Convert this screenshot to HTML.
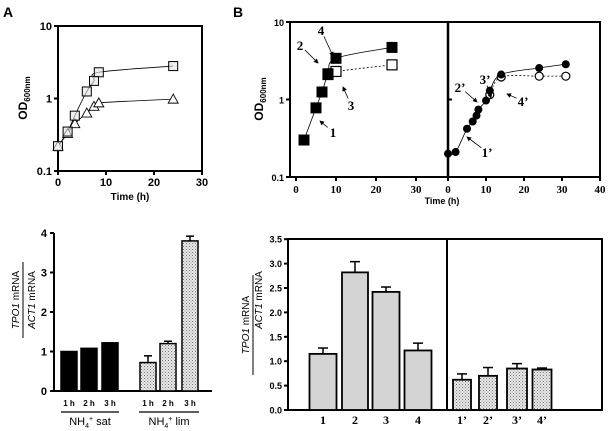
<!DOCTYPE html>
<html><head><meta charset="utf-8"><style>
body{margin:0;background:#fff}
svg{display:block}
.s{font-family:"Liberation Sans",sans-serif;font-weight:bold}
.r{font-family:"Liberation Serif",serif;font-weight:bold}
</style></head><body>
<svg id="fig" width="609" height="431" viewBox="0 0 609 431" xmlns="http://www.w3.org/2000/svg">
<defs>
<pattern id="dots" width="3" height="3" patternUnits="userSpaceOnUse"><rect width="3" height="3" fill="#e8e8e8"/><rect width="1" height="1" fill="#777"/><rect x="1.5" y="1.5" width="1" height="1" fill="#999"/></pattern>
<marker id="ah" markerWidth="6" markerHeight="6" refX="5" refY="3" orient="auto"><path d="M0,0 L6,3 L0,6 z" fill="#000"/></marker>
</defs>
<text x="3" y="17" class="s" font-size="14">A</text>
<text x="233" y="17" class="s" font-size="14">B</text>
<g id="g"></g>
</svg>
<script>
// Panel A growth
const aTime=[0,2,3.5,6,7.5,8.5,24];
const aSat=[0.22,0.35,0.58,1.25,1.75,2.3,2.8];
const aLim=[0.22,0.33,0.45,0.63,0.78,0.87,0.98];
// Panel B growth
const bTime1=[2,5,6.5,8,10,24];
const bFill1=[0.3,0.78,1.25,2.15,3.4,4.7];
const bTimeOpen1=[8,10,24];
const bOpen1=[2.1,2.3,2.8];
const bTime2=[0,2,5,6.5,7.5,8,10,11,14,24,31];
const bFill2=[0.2,0.21,0.42,0.52,0.62,0.74,0.97,1.3,2.1,2.55,2.85];
const bTimeOpen2=[11,14,24,31];
const bOpen2=[1.15,1.95,2.0,2.0];
// Panel A bars
const aBarLabels=["1 h","2 h","3 h","1 h","2 h","3 h"];
const aBarVals=[1.0,1.08,1.22,0.72,1.2,3.8];
const aBarErr=[0,0,0,0.17,0.06,0.12];
// Panel B bars
const bBarLabels=["1","2","3","4","1’","2’","3’","4’"];
const bBarVals=[1.15,2.82,2.42,1.22,0.62,0.7,0.85,0.83];
const bBarErr=[0.12,0.22,0.1,0.15,0.12,0.17,0.1,0.03];

const NS="http://www.w3.org/2000/svg";
const G=document.getElementById('g');
function el(t,a,p){const e=document.createElementNS(NS,t);for(const k in a)e.setAttribute(k,a[k]);(p||G).appendChild(e);return e;}
function tx(x,y,s,cls,fs,anchor,rot){const e=el('text',{x:x,y:y,class:cls,'font-size':fs,'text-anchor':anchor||'middle'});if(rot)e.setAttribute('transform','rotate(-90 '+x+' '+y+')');e.textContent=s;return e;}
function logY(top,bot){return v=>bot-(Math.log10(v)+1)/2*(bot-top);}
function linX(x0,x1,d0,d1){return v=>x0+(v-d0)/(d1-d0)*(x1-x0);}
function smooth(pts){let d='M'+pts[0][0]+','+pts[0][1];for(let i=1;i<pts.length;i++){const p0=pts[Math.max(0,i-2)],p1=pts[i-1],p2=pts[i],p3=pts[Math.min(pts.length-1,i+1)];d+=' C'+(p1[0]+(p2[0]-p0[0])/6)+','+(p1[1]+(p2[1]-p0[1])/6)+' '+(p2[0]-(p3[0]-p1[0])/6)+','+(p2[1]-(p3[1]-p1[1])/6)+' '+p2[0]+','+p2[1];}return d;}

// ---------- Panel A top ----------
{const X=linX(58,202,0,30),Y=logY(26,171);
let ax=el('rect',{x:58,y:26,width:144,height:145,fill:'none',stroke:'#000','stroke-width':2});

[0,10,20,30].forEach(v=>{el('line',{x1:X(v),x2:X(v),y1:171,y2:175,stroke:'#000','stroke-width':2});tx(X(v),186,String(v),'s',11);});
[[0.1,'0.1'],[1,'1'],[10,'10']].forEach(t=>{el('line',{x1:54,x2:58,y1:Y(t[0]),y2:Y(t[0]),stroke:'#000','stroke-width':2});tx(52,Y(t[0])+4,t[1],'s',11,'end');});
let t=tx(130,200,'Time (h)','s',10);
let o=el('text',{x:27,y:98,class:'s','font-size':12,'text-anchor':'middle',transform:'rotate(-90 27 98)'});o.innerHTML='OD<tspan font-size="8" dy="3">600nm</tspan>';

const pS=aTime.map((v,i)=>[X(v),Y(aSat[i])]),pL=aTime.map((v,i)=>[X(v),Y(aLim[i])]);
el('path',{d:smooth(pS),fill:'none',stroke:'#000','stroke-width':0.8});
el('path',{d:smooth(pL),fill:'none',stroke:'#000','stroke-width':0.8});
pL.forEach(p=>{const m=el('path',{d:`M${p[0]},${p[1]-5} L${p[0]+5},${p[1]+4} L${p[0]-5},${p[1]+4}Z`,fill:'#fff',stroke:'#000','stroke-width':0.9});});
pS.forEach(p=>{const m=el('rect',{x:p[0]-4.5,y:p[1]-4.5,width:9,height:9,fill:'#e4e4e4','fill-opacity':0.6,stroke:'#000','stroke-width':1});});
}
// ---------- Panel B top ----------
{const Y=logY(22,177);const X1=linX(296,416,0,30),X2=linX(448,600,0,40);
let ax=el('rect',{x:290,y:22,width:310,height:155,fill:'none',stroke:'#000','stroke-width':2});

el('line',{x1:448,x2:448,y1:22,y2:177,stroke:'#000','stroke-width':2.5});
[0,10,20,30].forEach(v=>{el('line',{x1:X1(v),x2:X1(v),y1:177,y2:181,stroke:'#000','stroke-width':2});tx(X1(v),193,String(v),'r',11);});
[0,10,20,30,40].forEach(v=>{el('line',{x1:X2(v),x2:X2(v),y1:177,y2:181,stroke:'#000','stroke-width':2});tx(X2(v),193,String(v),'r',11);});
[[0.1,'0.1'],[1,'1'],[10,'10']].forEach(t=>{el('line',{x1:286,x2:290,y1:Y(t[0]),y2:Y(t[0]),stroke:'#000','stroke-width':2});el('line',{x1:448,x2:452,y1:Y(t[0]),y2:Y(t[0]),stroke:'#000','stroke-width':2});tx(284,Y(t[0])+4,t[1],'s',9,'end');});
let t=tx(442,204,'Time (h)','s',9);
let o=el('text',{x:263,y:99,class:'s','font-size':12,'text-anchor':'middle',transform:'rotate(-90 263 99)'});o.innerHTML='OD<tspan font-size="8" dy="3">600nm</tspan>';

const f1=bTime1.map((v,i)=>[X1(v),Y(bFill1[i])]),o1=bTimeOpen1.map((v,i)=>[X1(v),Y(bOpen1[i])]);
const f2=bTime2.map((v,i)=>[X2(v),Y(bFill2[i])]),o2=bTimeOpen2.map((v,i)=>[X2(v),Y(bOpen2[i])]);
el('path',{d:smooth(f1),fill:'none',stroke:'#000','stroke-width':0.8});
el('path',{d:smooth(o1),fill:'none',stroke:'#000','stroke-width':0.8,'stroke-dasharray':'2,2'});
el('path',{d:smooth(f2),fill:'none',stroke:'#000','stroke-width':0.8});
el('path',{d:smooth(o2),fill:'none',stroke:'#000','stroke-width':0.8,'stroke-dasharray':'2,2'});
o1.forEach(p=>{const m=el('rect',{x:p[0]-5,y:p[1]-5,width:10,height:10,fill:'#fff',stroke:'#000','stroke-width':1.2});});
f1.forEach(p=>{const m=el('rect',{x:p[0]-5.5,y:p[1]-5.5,width:11,height:11,fill:'#000'});});
o2.forEach(p=>{const m=el('circle',{cx:p[0],cy:p[1],r:4,fill:'#fff',stroke:'#000','stroke-width':1.2});});
f2.forEach(p=>{const m=el('circle',{cx:p[0],cy:p[1],r:4,fill:'#000'});});
const ann=[['4',321,35,333,56],['2',300,50,318,63],['3',351,110,343,87],['1',333,137,320,121],['3’',485,84,491,98],['2’',460,92,477,102],['4’',523,106,507,94],['1’',487,157,467,137]];
ann.forEach(a=>{const s=tx(a[1],a[2],a[0],'r',13);
 const dx=a[3]-a[1],dy=a[4]-(a[2]-5),L=Math.hypot(dx,dy);el('line',{x1:a[1]+dx/L*7,y1:a[2]-5+dy/L*7,x2:a[3],y2:a[4],stroke:'#000','stroke-width':0.8,'marker-end':'url(#ah)'});});
}
// ---------- Panel A bars ----------
{const y0=391,u=39.5,Y=v=>y0-v*u;const cx=[69,89,110,148,168,190],w=16;
let ax=el('path',{d:'M54,233 V391 H212',fill:'none',stroke:'#000','stroke-width':2});

[0,1,2,3,4].forEach(v=>{el('line',{x1:50,x2:54,y1:Y(v),y2:Y(v),stroke:'#000','stroke-width':2});tx(47,Y(v)+4,String(v),'s',11,'end');});
aBarVals.forEach((v,i)=>{const lim=i>=3;
 if(aBarErr[i]>0){el('line',{x1:cx[i],x2:cx[i],y1:Y(v),y2:Y(v+aBarErr[i]),stroke:'#000','stroke-width':1.5});el('line',{x1:cx[i]-4,x2:cx[i]+4,y1:Y(v+aBarErr[i]),y2:Y(v+aBarErr[i]),stroke:'#000','stroke-width':1.5});}
 const b=el('rect',{x:cx[i]-w/2,y:Y(v),width:w,height:v*u,fill:lim?'url(#dots)':'#000',stroke:'#000','stroke-width':1.5});
 
 tx(cx[i],406,aBarLabels[i],'s',8);});
el('line',{x1:61,x2:119,y1:412,y2:412,stroke:'#000','stroke-width':1.2});
el('line',{x1:139,x2:199,y1:412,y2:412,stroke:'#000','stroke-width':1.2});
let g1=el('text',{x:90,y:425,class:'s','font-size':11,'text-anchor':'middle',style:'font-weight:normal'});g1.innerHTML='NH<tspan font-size="7" dy="3">4</tspan><tspan font-size="7" dy="-7">+</tspan><tspan dy="4"> sat</tspan>';

let g2=el('text',{x:169,y:425,class:'s','font-size':11,'text-anchor':'middle',style:'font-weight:normal'});g2.innerHTML='NH<tspan font-size="7" dy="3">4</tspan><tspan font-size="7" dy="-7">+</tspan><tspan dy="4"> lim</tspan>';

let y1=el('text',{x:19,y:300,class:'s','font-size':10,'text-anchor':'middle',style:'font-weight:normal',transform:'rotate(-90 19 300)'});y1.innerHTML='<tspan font-style="italic">TPO1</tspan> mRNA';

el('line',{x1:23,x2:23,y1:262,y2:338,stroke:'#000','stroke-width':1});
let y2=el('text',{x:35,y:300,class:'s','font-size':10,'text-anchor':'middle',style:'font-weight:normal',transform:'rotate(-90 35 300)'});y2.innerHTML='<tspan font-style="italic">ACT1</tspan> mRNA';

}
// ---------- Panel B bars ----------
{const y0=410,u=48.8,Y=v=>y0-v*u;const cx=[323,355,386,418,462,488,517,542],wd=[27,26,27,27,18,18,20,19];
let ax=el('rect',{x:288,y:239,width:314,height:171,fill:'none',stroke:'#000','stroke-width':2});

el('line',{x1:447,x2:447,y1:239,y2:410,stroke:'#000','stroke-width':2});
[0,0.5,1,1.5,2,2.5,3,3.5].forEach(v=>{el('line',{x1:284,x2:288,y1:Y(v),y2:Y(v),stroke:'#000','stroke-width':2});tx(282,Y(v)+3.5,v.toFixed(1),'s',9,'end');});
bBarVals.forEach((v,i)=>{const r=i>=4;
 el('line',{x1:cx[i],x2:cx[i],y1:Y(v),y2:Y(v+bBarErr[i]),stroke:'#000','stroke-width':1.5});el('line',{x1:cx[i]-5,x2:cx[i]+5,y1:Y(v+bBarErr[i]),y2:Y(v+bBarErr[i]),stroke:'#000','stroke-width':1.5});
 const b=el('rect',{x:cx[i]-wd[i]/2,y:Y(v),width:wd[i],height:v*u,fill:r?'url(#dots)':'#d4d4d4',stroke:'#000','stroke-width':1.8});
 
 tx(cx[i],424,bBarLabels[i],'r',12);});
let y1=el('text',{x:249,y:325,class:'s','font-size':10,'text-anchor':'middle',style:'font-weight:normal',transform:'rotate(-90 249 325)'});y1.innerHTML='<tspan font-style="italic">TPO1</tspan> mRNA';

el('line',{x1:253,x2:253,y1:275,y2:375,stroke:'#000','stroke-width':1});
let y2=el('text',{x:262,y:300,class:'s','font-size':10,'text-anchor':'middle',style:'font-weight:normal',transform:'rotate(-90 262 300)'});y2.innerHTML='<tspan font-style="italic">ACT1</tspan> mRNA';

}
</script>
</body></html>
